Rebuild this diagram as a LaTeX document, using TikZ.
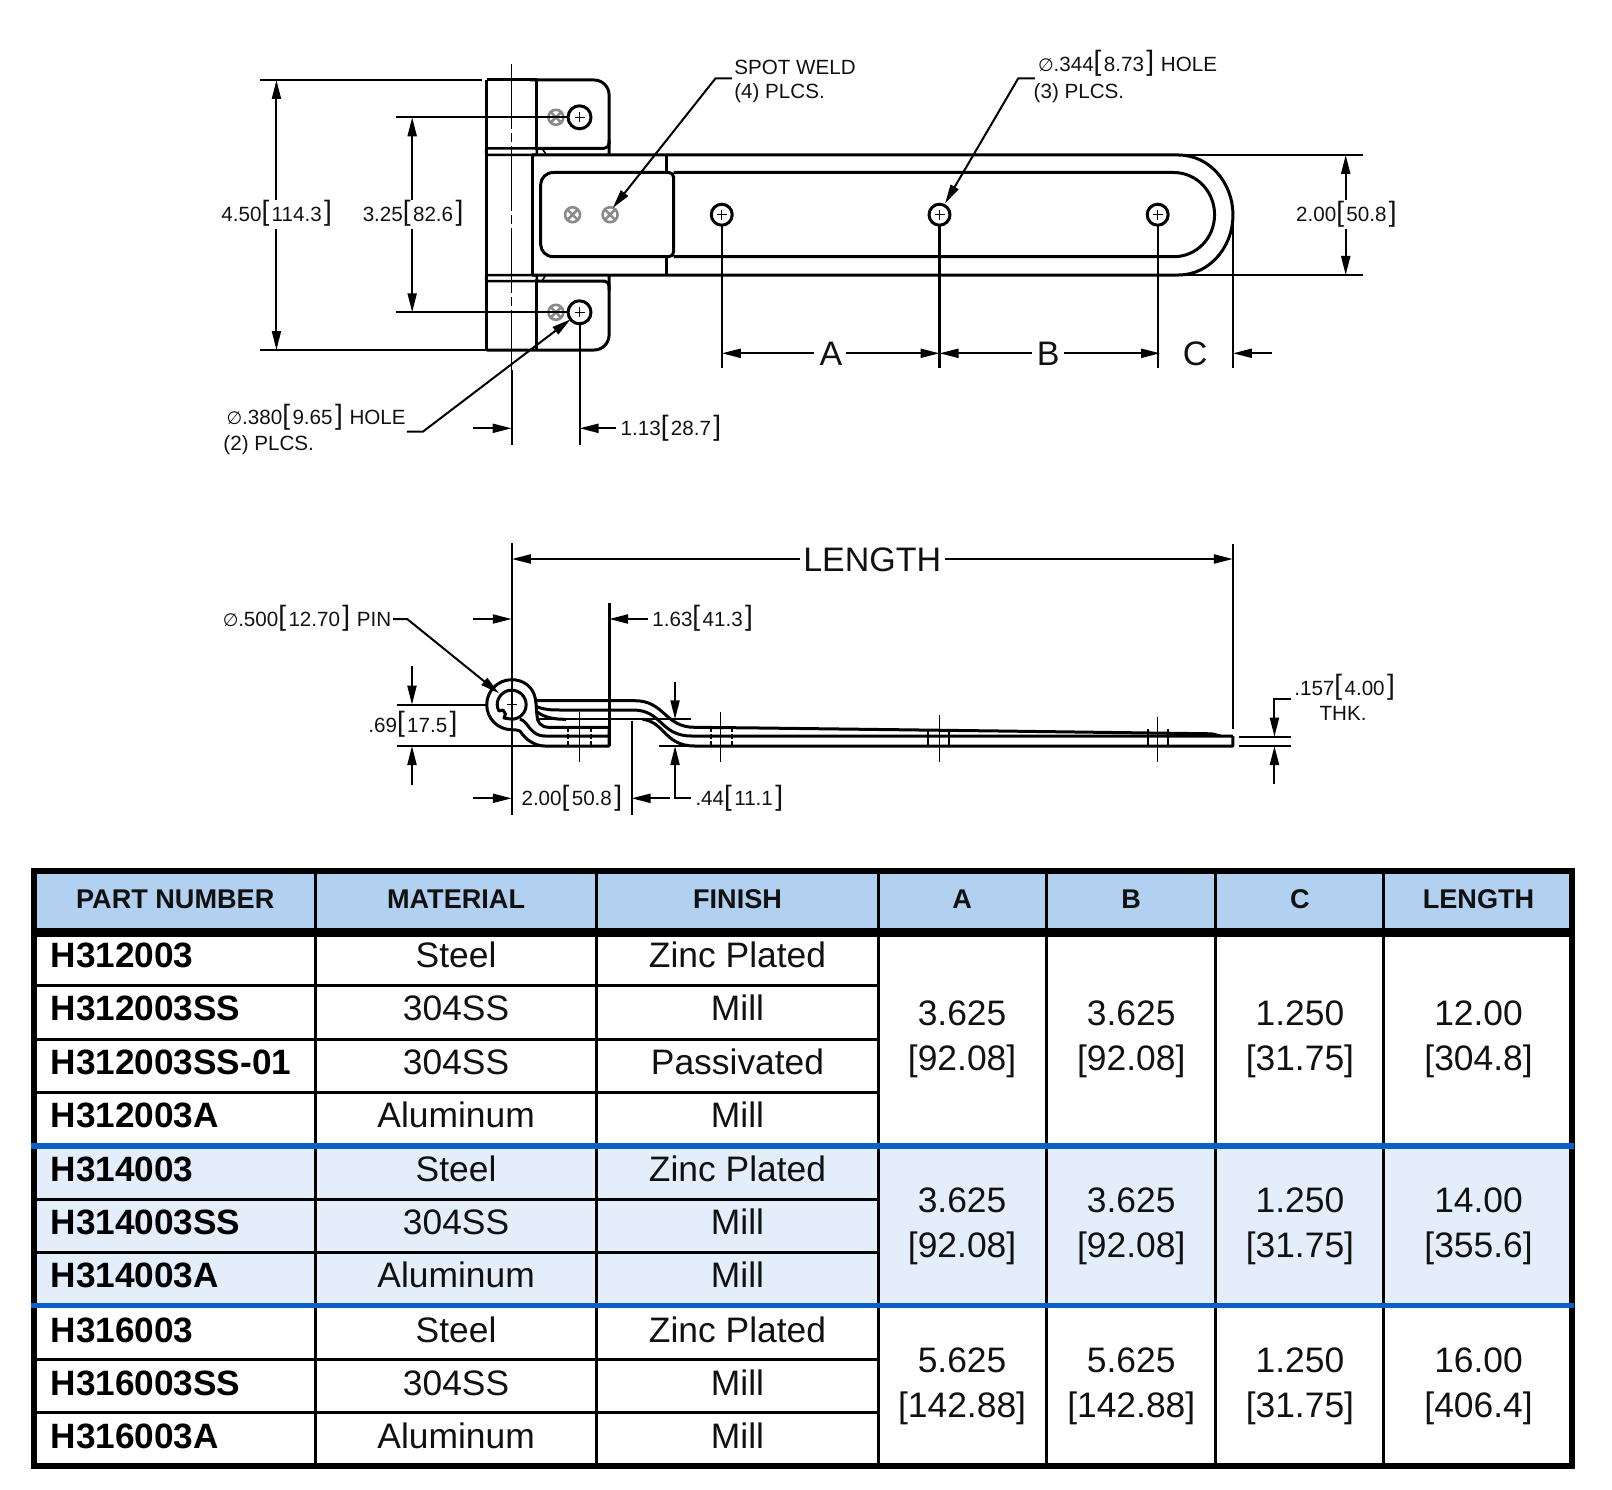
\documentclass[tikz,border=0pt]{standalone}
\usepackage{fontspec}
\setmainfont{Liberation Sans}
\newfontfamily\djv{DejaVu Sans}
\usetikzlibrary{arrows.meta}
\definecolor{headblue}{HTML}{B2D0F0}
\definecolor{bandblue}{HTML}{E3EEFA}
\definecolor{ruleblue}{HTML}{0A60C4}
\definecolor{weldgrey}{HTML}{8A8A8A}
\definecolor{inkblack}{HTML}{111111}
\newcommand{\dm}[2]{#1\raisebox{0.5pt}{\fontsize{28}{28}\selectfont[}\kern2.4pt #2\kern2.4pt\raisebox{0.5pt}{\fontsize{28}{28}\selectfont]}}
\newcommand{\dia}{\makebox[15.5pt][l]{\djv\fontsize{18}{18}\selectfont ∅}}
\newcommand{\weld}[2]{\draw[weldline] (#1,#2) circle[radius=7.5] (#1-5.3,#2-5.3) -- (#1+5.3,#2+5.3) (#1-5.3,#2+5.3) -- (#1+5.3,#2-5.3);}
\newcommand{\hole}[3]{\draw[part,fill=white] (#1,#2) circle[radius=#3]; \draw[thinline] (#1-5,#2) -- (#1+5,#2) (#1,#2-5) -- (#1,#2+5);}
\tikzset{
  part/.style={line width=3pt,draw=black,line join=round},
  dimline/.style={line width=2pt,draw=black},
  thinline/.style={line width=1pt,draw=black},
  weldline/.style={line width=2.6pt,draw=weldgrey},
  arr/.style={dimline,-{Triangle[length=19pt,width=9pt]}},
  lab/.style={font=\fontsize{20.6}{20.6}\selectfont,inner sep=0pt,anchor=west,text height=14.8pt,text depth=0pt,text=inkblack},
  big/.style={font=\fontsize{34}{34}\selectfont,inner sep=0pt,anchor=center,text height=24.4pt,text depth=0pt,text=inkblack},
  head/.style={font=\fontsize{27.1}{27.1}\bfseries\selectfont,inner sep=0pt,anchor=center,text height=19.5pt,text depth=0pt,text=inkblack},
  partno/.style={font=\fontsize{35.2}{35.2}\bfseries\selectfont,inner sep=0pt,anchor=west,text height=25.2pt,text depth=0pt,text=black},
  cell/.style={font=\fontsize{35.4}{35.4}\selectfont,inner sep=0pt,anchor=center,text height=25.3pt,text depth=0pt,text=inkblack},
  tline/.style={line width=3pt,draw=black},
  tedge/.style={line width=5.4pt,draw=black},
  blueline/.style={line width=5.4pt,draw=ruleblue},
}
\begin{document}
\begin{tikzpicture}[x=0.998pt,y=-1pt]
\useasboundingbox (-1,0) rectangle (1614.23,1490);
%% ---------- top view ----------
\weld{556}{117.3}
\weld{556}{312.3}
\weld{572.7}{214.7}
\weld{610.3}{214.7}
% centre line
\draw[thinline,dash pattern=on 65pt off 4pt on 9pt off 4pt] (511.7,64) -- (511.7,370);
\draw[dimline] (511.7,370) -- (511.7,445);
% barrel
\draw[part] (486.7,80) -- (486.7,350);
\draw[part] (486.7,80) -- (537,80);
\draw[part] (536.7,80) -- (536.7,148.3);
\draw[part] (536.7,281) -- (536.7,350);
\draw[part,line width=2.5pt,rounded corners=1.5pt] (486,148.3) rectangle (537,155);
\draw[part,line width=2.5pt,rounded corners=1.5pt] (486,275) rectangle (537,281);
\draw[part,line width=1.6pt] (542,148.3) -- (546,154);
\draw[part,line width=1.6pt] (542,281) -- (546,275);
% tabs
\draw[part,rounded corners=15pt] (530,80) -- (609.3,80) -- (609.3,135) [sharp corners] -- (609.3,155);
\draw[part,rounded corners=5pt] (537,148.3) -- (609.3,148.3) -- (609.3,140);
\draw[part,rounded corners=15pt] (486.7,350) -- (609.3,350) -- (609.3,295) [sharp corners] -- (609.3,275);
\draw[part,rounded corners=5pt] (537,281) -- (609.3,281) -- (609.3,290);
% strap
\draw[part] (532.3,155) -- (532.3,275);
\draw[part] (532.3,155) -- (1180,155) .. controls (1210,155) and (1234.4,182) .. (1234.4,215) .. controls (1234.4,248) and (1210,275) .. (1180,275) -- (532.3,275);
\draw[part] (674,172.5) -- (1175,172.5) .. controls (1198,172.5) and (1216,191.5) .. (1216,214.7) .. controls (1216,238) and (1198,256.7) .. (1175,256.7) -- (674,256.7);
\draw[part] (553.7,172.5) -- (669,172.5) .. controls (672,172.5) and (674,174.5) .. (674,177.5) -- (674,251.7) .. controls (674,254.7) and (672,256.7) .. (669,256.7) -- (553.7,256.7) .. controls (546,256.7) and (540.7,251) .. (540.7,244) -- (540.7,185) .. controls (540.7,178) and (546,172.5) .. (553.7,172.5);
\draw[part] (667.3,155) -- (667.3,172.5);
\draw[part] (667.3,256.7) -- (667.3,275);
% extension lines
\draw[dimline] (260,80) -- (481.7,80);
\draw[dimline] (260,350) -- (486.7,350);
\draw[dimline] (396,117.3) -- (568,117.3);
\draw[dimline] (396,312.3) -- (568,312.3);
\draw[dimline] (1180,155) -- (1364.5,155);
\draw[dimline] (1180,275) -- (1364.5,275);
\draw[dimline] (1234.4,215) -- (1234.4,368);
\draw[dimline] (722.2,225) -- (722.2,368);
\draw[part] (940.4,225) -- (940.4,368);
\draw[dimline] (1159,225) -- (1159,368);
\draw[dimline] (579.7,324) -- (579.7,445);
% holes
\hole{579.7}{117.3}{11.5}
\hole{579.7}{312.3}{11.5}
\hole{722.2}{214.7}{10.5}
\hole{940.4}{214.7}{10.5}
\hole{1159}{214.7}{10.5}
% 4.50
\draw[arr] (276,200) -- (276,80);
\draw[arr] (276,229) -- (276,350);
\node[lab] (d450) at (220.7,214) {\dm{4.50}{114.3}};
% 3.25
\draw[arr] (412,200) -- (412,117.3);
\draw[arr] (412,229) -- (412,312.3);
\node[lab] (d325) at (362.3,214) {\dm{3.25}{82.6}};
% 2.00
\draw[arr] (1347.4,200) -- (1347.4,155);
\draw[arr] (1347.4,229) -- (1347.4,275);
\node[lab] (d200) at (1297.6,214.3) {\dm{2.00}{50.8}};
% A B C
\draw[arr] (814.4,353.3) -- (722.2,353.3);
\draw[arr] (846.7,353.3) -- (940.4,353.3);
\draw[arr] (1033,353.3) -- (940.4,353.3);
\draw[arr] (1065.5,353.3) -- (1161.5,353.3);
\draw[arr] (1273.6,353.3) -- (1234.4,353.3);
\node[big] (dA) at (831.5,353.3) {A};
\node[big] (dB) at (1049.3,353.3) {B};
\node[big] (dC) at (1196.6,353.3) {C};
% 1.13
\draw[arr] (473.3,428.3) -- (511.7,428.3);
\draw[arr] (616.7,428.3) -- (579.7,428.3);
\node[lab] (d113) at (620.7,428.3) {\dm{1.13}{28.7}};
% leaders
\node[lab] (weld1) at (734.6,66.7) {SPOT WELD};
\node[lab] (weld2) at (734.6,90.7) {(4) PLCS.};
\draw[arr] (732.3,78.3) -- (716,78.3) -- (613,208);
\node[lab] (hole1) at (1039,64) {\dia\dm{.344}{8.73}\kern1pt{} HOLE};
\node[lab] (hole2) at (1034.6,90.7) {(3) PLCS.};
\draw[arr] (1036,78.3) -- (1019.3,78.3) -- (946,203.3);
\node[lab] (tabh1) at (226,417.3) {\dia\dm{.380}{9.65}\kern1pt{} HOLE};
\node[lab] (tabh2) at (222.7,443.3) {(2) PLCS.};
\draw[arr] (406.7,431.7) -- (422.7,431.7) -- (570.7,319.3);
%% ---------- side view ----------
% extension lines
\draw[dimline] (511.8,543.3) -- (511.8,815);
\draw[dimline] (1234.4,544) -- (1234.4,729);
\draw[part] (609.3,603.3) -- (609.3,746);
\draw[dimline] (631.8,720.7) -- (631.8,815);
\draw[dimline] (396.4,704.7) -- (486,704.7);
\draw[dimline] (396.4,746) -- (545,746);
\draw[dimline] (537,719.3) -- (691.7,719.3);
\draw[dimline] (659,746) -- (695,746);
\draw[dimline] (1240,736.7) -- (1292.6,736.7);
\draw[dimline] (1240,746) -- (1292.6,746);
% hole centre lines
\draw[thinline] (579.3,712) -- (579.3,761.7);
\draw[thinline] (721.4,712) -- (721.4,761.7);
\draw[thinline] (940,715) -- (940,761.7);
\draw[thinline] (1159,716.7) -- (1159,761.7);
% hole edges
\foreach \hx in {567.9,591,711.8,732}{
  \draw[dimline,dash pattern=on 5pt off 2pt] (\hx,727) -- (\hx,746);
}
\foreach \hx in {929,950,1149,1169}{
  \draw[dimline] (\hx,729) -- (\hx,746);
}
% knuckle and lower leaf
\draw[part] (511.7,729.7) .. controls (497.9,729.7) and (486.7,718.5) .. (486.7,704.7) .. controls (486.7,690.9) and (497.9,679.7) .. (511.7,679.7) .. controls (523,679.7) and (531,686) .. (534,694) .. controls (537,702) and (536,708) .. (537,715) .. controls (537,722) and (541,727.3) .. (549,727.3) -- (609.3,727.3) -- (609.3,746) -- (545,746) .. controls (535,746) and (526,740) .. (520,731) .. controls (518,730) and (515,729.7) .. (511.7,729.7);
\draw[part] (520,719) .. controls (529,722) and (530,736) .. (545,736) -- (609.3,736);
% pin
\draw[part] (511.7,719.2) .. controls (519.7,719.2) and (526.2,712.7) .. (526.2,704.7) .. controls (526.2,696.7) and (519.7,690.2) .. (511.7,690.2) .. controls (503.7,690.2) and (497.2,696.7) .. (497.2,704.7) .. controls (497.2,707) and (498,709) .. (499,711) -- (503,710) -- (505.5,714) -- (504,718) -- (511.7,719.2);
\draw[thinline] (506.7,704.7) -- (516.7,704.7) (511.7,699.7) -- (511.7,709.7);
% upper strap profile
\draw[part] (537,700.7) -- (635,700.7) .. controls (665,700.7) and (665,727.3) .. (695,727.3) -- (760,728) -- (1000,731) -- (1213,733.8) -- (1222,736);
\draw[part] (537,706.7) .. controls (545,710) and (552,710) .. (562,710) -- (633,710) .. controls (663,710) and (660,736) .. (692,736) -- (1234.4,736);
\draw[part] (537,711.7) .. controls (545,718) and (555,719.3) .. (566,719.3) (643,719.3) .. controls (665,722) and (665,746) .. (695,746) -- (1234.4,746) -- (1234.4,736);
% LENGTH
\draw[arr] (801,559) -- (511.8,559);
\draw[arr] (945.5,559) -- (1234.4,559);
\node[big] (dlen) at (873,559) {LENGTH};
% pin dimension
\draw[arr] (473,619) -- (511.8,619);
\draw[arr] (648,619) -- (609.3,619);
\node[lab] (d163) at (652.5,619) {\dm{1.63}{41.3}};
\node[lab] (dpin) at (222,619) {\dia\dm{.500}{12.70}\kern1pt{} PIN};
\draw[arr] (393,619) -- (407,619) -- (499,693.3);
% .69
\draw[arr] (411.8,666) -- (411.8,704.7);
\draw[arr] (411.8,785) -- (411.8,746);
\node[lab] (d069) at (367.9,725) {\dm{.69}{17.5}};
% .44
\draw[arr] (691,798.3) -- (675.4,798.3) -- (675.4,746);
\draw[arr] (675.4,681.7) -- (675.4,719.3);
\node[lab] (d044) at (695.7,798.3) {\dm{.44}{11.1}};
% 2.00 lower
\draw[arr] (473,798.3) -- (511.8,798.3);
\draw[arr] (670.7,798.3) -- (631.8,798.3);
\node[lab] (d200b) at (521.4,798.3) {\dm{2.00}{50.8}};
% thickness
\draw[arr] (1292.6,699) -- (1276,699) -- (1276,736.7);
\draw[arr] (1276,784.3) -- (1276,746);
\node[lab] (dthk) at (1295.7,687.7) {\dm{.157}{4.00}};
\node[lab,anchor=center] (dthk2) at (1344.8,713.3) {THK.};
%% ---------- table ----------
\fill[headblue] (33,871) rectangle (1574,928.5);
\fill[bandblue] (33,1146) rectangle (1574,1305.7);
\foreach \ry in {985.7,1039.2,1092.7,1199.2,1252.5,1359,1412.4}{
  \draw[tline] (33,\ry) -- (879.6,\ry);
}
\foreach \cx in {315,596.8,879.6,1047.5,1216.5,1385.5}{
  \draw[tline] (\cx,871) -- (\cx,1466);
}
\draw[line width=8.4pt,draw=black] (33,932.5) -- (1574,932.5);
\draw[tedge] (33,871) rectangle (1574,1465.8);
\draw[blueline] (30.5,1146) -- (1576.5,1146);
\draw[blueline] (30.5,1305.7) -- (1576.5,1305.7);
% header
\node[head] (hpart) at (174.6,898.5) {PART NUMBER};
\node[head] (hmat) at (456,898.5) {MATERIAL};
\node[head] (hfin) at (738,898.5) {FINISH};
\node[head] (hA) at (963,898.5) {A};
\node[head] (hB) at (1132.5,898.5) {B};
\node[head] (hC) at (1301.5,898.5) {C};
\node[head] (hL) at (1480.5,898.5) {LENGTH};
% rows
\foreach \i/\ry/\pn/\mt/\fn in {
  1/955/H312003/Steel/Zinc Plated,
  2/1008/H312003SS/304SS/Mill,
  3/1062/H312003SS-01/304SS/Passivated,
  4/1115/H312003A/Aluminum/Mill,
  5/1169/H314003/Steel/Zinc Plated,
  6/1222/H314003SS/304SS/Mill,
  7/1275/H314003A/Aluminum/Mill,
  8/1330/H316003/Steel/Zinc Plated,
  9/1383/H316003SS/304SS/Mill,
  10/1436/H316003A/Aluminum/Mill}{
  \node[partno] (pn\i) at (49.5,\ry) {\pn};
  \node[cell] (mt\i) at (456,\ry) {\mt};
  \node[cell] (fn\i) at (738,\ry) {\fn};
}
% merged values
\foreach \g/\ya/\yb/\va/\vb/\vc/\vd/\ve/\vf/\vg/\vh in {
  1/1013/1058/3.625/[92.08]/3.625/[92.08]/1.250/[31.75]/12.00/[304.8],
  2/1200/1245/3.625/[92.08]/3.625/[92.08]/1.250/[31.75]/14.00/[355.6],
  3/1360/1405/5.625/[142.88]/5.625/[142.88]/1.250/[31.75]/16.00/[406.4]}{
  \node[cell] (a\g) at (963,\ya) {\va};
  \node[cell] (am\g) at (963,\yb) {{\vb}};
  \node[cell] (b\g) at (1132.5,\ya) {\vc};
  \node[cell] (bm\g) at (1132.5,\yb) {{\vd}};
  \node[cell] (c\g) at (1301.5,\ya) {\ve};
  \node[cell] (cm\g) at (1301.5,\yb) {{\vf}};
  \node[cell] (l\g) at (1480.5,\ya) {\vg};
  \node[cell] (lm\g) at (1480.5,\yb) {{\vh}};
}
\end{tikzpicture}
\end{document}
